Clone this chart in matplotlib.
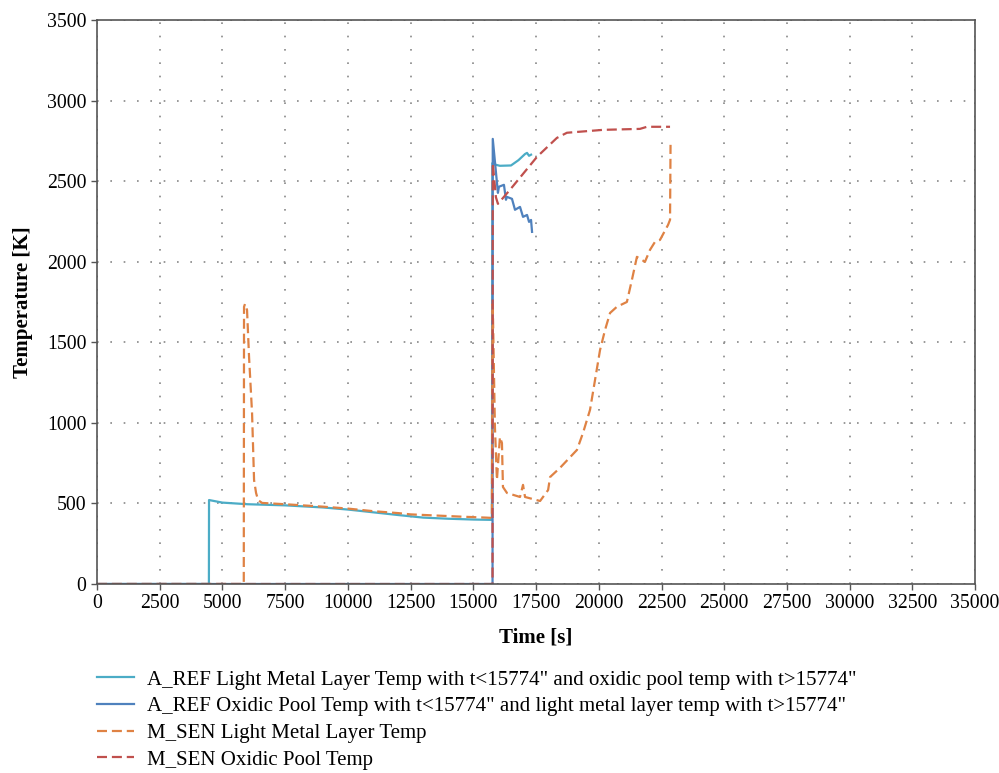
import matplotlib
matplotlib.use("Agg")
import matplotlib.pyplot as plt

# A_REF light metal layer (t<15774) / oxidic pool (t>15774)
aref_lm_t = [0, 4460, 4465, 5000, 6000, 7500, 9000, 10000, 11000, 12000, 13000, 14000, 15000, 15740,
             15760, 15800, 16060, 16500, 16800, 17060, 17140, 17220, 17300]
aref_lm_T = [0, 0, 521, 505, 495, 488, 475, 462, 445, 428, 412, 405, 400, 398,
             2612, 2605, 2595, 2597, 2630, 2668, 2675, 2657, 2664]

# A_REF oxidic pool (t<15774) / light metal layer (t>15774)
aref_op_t = [0, 15765, 15774, 15980, 16020, 16220, 16300, 16340, 16540, 16660, 16860, 16980,
             17140, 17220, 17300, 17340]
aref_op_T = [0, 0, 2762, 2427, 2465, 2477, 2384, 2402, 2390, 2322, 2340, 2278,
             2290, 2247, 2259, 2185]

# M_SEN light metal layer
msen_lm_t = [0, 5850, 5860, 5900, 5980, 6060, 6180, 6260, 6340, 6420, 6580, 7500, 9000, 10000,
             11000, 12000, 12500, 13500, 14500, 15500, 15740, 15765, 15780, 15860, 15940,
             16060, 16140, 16180, 16340, 16860, 16980, 17060, 17660, 17980, 18060, 18450,
             19130, 19370, 19650, 19850, 20050, 20250, 20450, 20720, 21120, 21320, 21520,
             21840, 22040, 22240, 22440, 22760, 22840, 22860]
msen_lm_T = [0, 0, 1720, 1738, 1700, 1410, 1061, 645, 565, 521, 503, 495, 480, 468,
             452, 440, 432, 425, 418, 412, 410, 1735, 1682, 975, 645,
             912, 875, 602, 565, 540, 615, 540, 515, 583, 664, 720,
             832, 937, 1080, 1266, 1452, 1577, 1682, 1720, 1750, 1887, 2030,
             1999, 2073, 2123, 2135, 2228, 2260, 2725]

# M_SEN oxidic pool
msen_op_t = [0, 15765, 15774, 15900, 15980, 16460, 17540, 18330, 18730, 20170, 21640,
             21920, 22840]
msen_op_T = [0, 0, 2612, 2400, 2359, 2446, 2651, 2768, 2800, 2818, 2824, 2837, 2837]

labels = [
    'A_REF Light Metal Layer Temp with t<15774" and oxidic pool temp with t>15774"',
    'A_REF Oxidic Pool Temp with t<15774" and light metal layer temp with t>15774"',
    'M_SEN Light Metal Layer Temp',
    'M_SEN Oxidic Pool Temp',
]

plt.rcParams['font.family'] = ['Liberation Serif', 'DejaVu Serif']
plt.rcParams['font.size'] = 15

fig = plt.figure(figsize=(9.99, 7.73), dpi=100)
ax = fig.add_axes([0.0971, 0.2445, 0.879, 0.7297])

dash = (0, (4.5, 2.2))
ax.plot(aref_lm_t, aref_lm_T, color='#4BACC6', lw=1.6, label=labels[0])
ax.plot(aref_op_t, aref_op_T, color='#4F81BD', lw=1.6, label=labels[1])
ax.plot(msen_lm_t, msen_lm_T, color='#DF8244', lw=1.6, ls=dash, label=labels[2])
ax.plot(msen_op_t, msen_op_T, color='#C0504D', lw=1.6, ls=dash, label=labels[3])

ax.set_xlim(0, 35000)
ax.set_ylim(0, 3500)
ax.set_xticks(range(0, 35001, 2500))
ax.set_yticks(range(0, 3501, 500))
ax.grid(True, color='#888888', linestyle=(0, (1, 7)), linewidth=1.2)
ax.tick_params(direction='out', length=4, width=1, color='#555555', labelsize=14.2)
for s in ax.spines.values():
    s.set_color('#555555')
    s.set_linewidth(1.2)

ax.set_xlabel('Time [s]', fontweight='bold', fontsize=15, labelpad=10)
ax.set_ylabel('Temperature [K]', fontweight='bold', fontsize=15, labelpad=10)

fig.legend(loc='upper left', bbox_to_anchor=(0.0888, 0.144), frameon=False,
           fontsize=15, handlelength=1.75, labelspacing=0.34, handletextpad=0.67,
           borderaxespad=0)

fig.savefig('out.png', dpi=100)
